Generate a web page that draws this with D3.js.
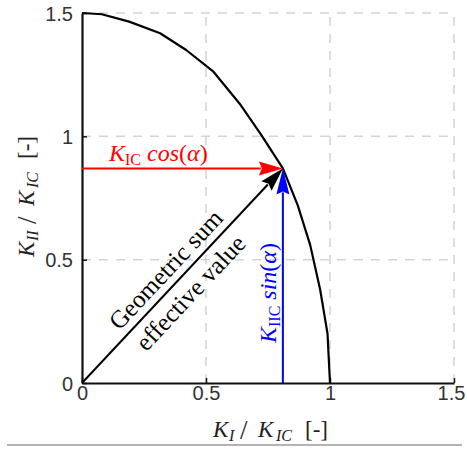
<!DOCTYPE html>
<html>
<head>
<meta charset="utf-8">
<script src="https://cdn.jsdelivr.net/npm/d3@7"></script>
<style>
  html, body { margin: 0; padding: 0; background: #fff; }
  svg { display: block; }
</style>
</head>
<body>
<svg id="chart" width="467" height="450"></svg>
<script>
// Failure envelope K_II/K_IC against K_I/K_IC
const curveX = [0, 0.08, 0.19, 0.315, 0.42, 0.53, 0.64, 0.72, 0.81, 0.87, 0.92, 0.96, 0.99, 1.0];
const curveY = [1.5, 1.495, 1.465, 1.418, 1.35, 1.262, 1.127, 1.01, 0.87, 0.72, 0.56, 0.38, 0.2, 0];

// Point on the envelope reached by the two components
const pointX = 0.81;
const pointY = 0.87;

const tickValues = [0, 0.5, 1, 1.5];
const tickLabels = ["0", "0.5", "1", "1.5"];

const W = 467, H = 450;
const margin = { left: 82, right: 13, top: 13, bottom: 67 };

const svg = d3.select("#chart");
const x = d3.scaleLinear().domain([0, 1.5]).range([margin.left, W - margin.right]);
const y = d3.scaleLinear().domain([0, 1.5]).range([H - margin.bottom, margin.top]);

const serif = "'Liberation Serif', 'Times New Roman', serif";
const sans = "'Liberation Sans', Arial, sans-serif";

// dashed grid
const grid = svg.append("g").attr("stroke", "#d4d4d4").attr("stroke-width", 1.5)
  .attr("stroke-dasharray", "9,8").attr("fill", "none");
tickValues.slice(1).forEach(v => {
  grid.append("line").attr("x1", x(v)).attr("x2", x(v)).attr("y1", y(0)).attr("y2", y(1.5));
  grid.append("line").attr("x1", x(0)).attr("x2", x(1.5)).attr("y1", y(v)).attr("y2", y(v));
});

// axes
const xAxis = d3.axisBottom(x).tickValues(tickValues).tickFormat((d, i) => tickLabels[i])
  .tickSizeInner(-5).tickSizeOuter(0).tickPadding(3);
const yAxis = d3.axisLeft(y).tickValues(tickValues).tickFormat((d, i) => tickLabels[i])
  .tickSizeInner(-5).tickSizeOuter(0).tickPadding(9);

const gx = svg.append("g").attr("transform", `translate(0,${y(0)})`).call(xAxis);
const gy = svg.append("g").attr("transform", `translate(${x(0)},0)`).call(yAxis);
[gx, gy].forEach(g => {
  g.select(".domain").attr("stroke", "#111").attr("stroke-width", 2.2);
  g.selectAll(".tick line").attr("stroke", "#111").attr("stroke-width", 1.5);
  g.selectAll(".tick text").attr("font-family", sans).attr("font-size", 20).attr("fill", "#333");
});
gy.selectAll(".tick text").attr("dy", "0.36em");
// keep the last x label inside the figure
gx.selectAll(".tick text").filter(d => d === 1.5).attr("dx", -3);

// envelope curve
const line = d3.line().x((d, i) => x(curveX[i])).y((d, i) => y(curveY[i]));
svg.append("path").datum(curveX).attr("d", line)
  .attr("fill", "none").attr("stroke", "#000").attr("stroke-width", 2.2)
  .attr("stroke-linejoin", "round");

// arrows
function arrow(x0, y0, x1, y1, color, len, half) {
  const px0 = x(x0), py0 = y(y0), px1 = x(x1), py1 = y(y1);
  const dx = px1 - px0, dy = py1 - py0, L = Math.hypot(dx, dy);
  const ux = dx / L, uy = dy / L, nx = -uy, ny = ux;
  const bx = px1 - ux * len, by = py1 - uy * len;
  svg.append("line").attr("x1", px0).attr("y1", py0).attr("x2", bx + ux * 2).attr("y2", by + uy * 2)
    .attr("stroke", color).attr("stroke-width", 2);
  const notch = 3;
  svg.append("path")
    .attr("d", `M${px1},${py1} L${bx + nx * half},${by + ny * half} L${bx + ux * notch},${by + uy * notch} L${bx - nx * half},${by - ny * half} Z`)
    .attr("fill", color);
}
arrow(0, pointY, pointX, pointY, "#ff0000", 24, 7);
arrow(pointX, 0, pointX, pointY, "#0000ff", 26, 6.5);
arrow(0, 0, pointX, pointY, "#000000", 24, 7);

// component labels
const red = svg.append("text").attr("x", 109).attr("y", 161)
  .attr("font-family", serif).attr("font-size", 24).attr("fill", "#ff0000");
red.append("tspan").attr("font-style", "italic").text("K");
red.append("tspan").attr("font-size", 16).attr("dy", 4).text("IC");
red.append("tspan").attr("dy", -4).attr("font-style", "italic").text(" cos");
red.append("tspan").text("(");
red.append("tspan").attr("font-style", "italic").text("α");
red.append("tspan").text(")");

const blue = svg.append("text").attr("transform", `translate(276,${293}) rotate(-90)`)
  .attr("text-anchor", "middle")
  .attr("font-family", serif).attr("font-size", 24).attr("fill", "#0000ff");
blue.append("tspan").attr("font-style", "italic").text("K");
blue.append("tspan").attr("font-size", 16).attr("dy", 4).text("IIC");
blue.append("tspan").attr("dy", -4).attr("font-style", "italic").text(" sin");
blue.append("tspan").text("(");
blue.append("tspan").attr("font-style", "italic").text("α");
blue.append("tspan").text(")");

// labels along the resultant
{
  const px0 = x(0), py0 = y(0), px1 = x(pointX), py1 = y(pointY);
  const ang = Math.atan2(py1 - py0, px1 - px0) * 180 / Math.PI;
  const L = Math.hypot(px1 - px0, py1 - py0);
  const ux = (px1 - px0) / L, uy = (py1 - py0) / L, nx = uy, ny = -ux;
  const along = 140;
  const c1 = [px0 + ux * along + nx * 8, py0 + uy * along + ny * 8];
  const c2 = [px0 + ux * along - nx * 26, py0 + uy * along - ny * 26];
  svg.append("text").attr("transform", `translate(${c1[0]},${c1[1]}) rotate(${ang})`)
    .attr("text-anchor", "middle").attr("font-family", serif).attr("font-size", 25)
    .attr("fill", "#000").text("Geometric sum");
  svg.append("text").attr("transform", `translate(${c2[0]},${c2[1]}) rotate(${ang})`)
    .attr("text-anchor", "middle").attr("font-family", serif).attr("font-size", 25)
    .attr("fill", "#000").text("effective value");
}

// axis titles, each glyph group placed along the baseline
function axisTitle(g, sub1) {
  const wide = sub1.length > 1 ? 6 : 0;
  const parts = [
    { t: "K", x: 0, it: true, sub: false, size: 23 },
    { t: sub1, x: 16, it: true, sub: true, size: 16 },
    { t: "/", x: 27 + wide, it: false, sub: false, size: 27 },
    { t: "K", x: 45 + wide, it: true, sub: false, size: 23 },
    { t: "IC", x: 63 + wide, it: true, sub: true, size: 16 },
    { t: "[-]", x: 92 + wide, it: false, sub: false, size: 23 }
  ];
  parts.forEach(p => {
    g.append("text").attr("x", p.x).attr("y", p.sub ? 4 : (p.t === "/" ? 2 : 0))
      .attr("font-family", serif).attr("font-size", p.size)
      .attr("font-style", p.it ? "italic" : "normal")
      .attr("fill", "#222").text(p.t);
  });
}
axisTitle(svg.append("g").attr("transform", "translate(213,437)"), "I");
axisTitle(svg.append("g").attr("transform", "translate(34,257) rotate(-90)"), "II");

// rule under the figure
svg.append("line").attr("x1", 7).attr("x2", 462).attr("y1", 445).attr("y2", 445)
  .attr("stroke", "#9a9a9a").attr("stroke-width", 1.5);
</script>
</body>
</html>
